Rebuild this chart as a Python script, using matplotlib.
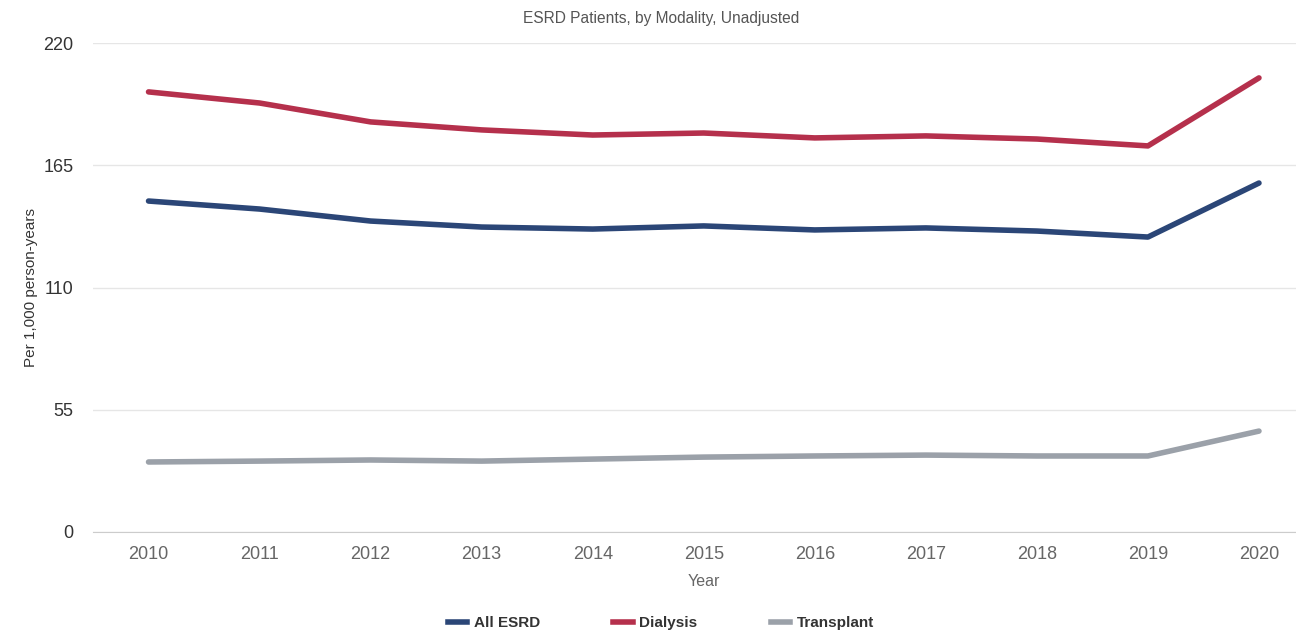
import matplotlib
matplotlib.use("Agg")
import matplotlib.pyplot as plt
from matplotlib.lines import Line2D

years = [2010, 2011, 2012, 2013, 2014, 2015, 2016, 2017, 2018, 2019, 2020]
all_esrd = [148.9, 145.3, 139.9, 137.2, 136.3, 137.7, 135.9, 136.8, 135.4, 132.7, 157.0]
dialysis = [198.0, 193.0, 184.5, 180.9, 178.6, 179.5, 177.3, 178.2, 176.8, 173.7, 204.3]
transplant = [31.5, 31.9, 32.4, 31.9, 32.8, 33.7, 34.2, 34.6, 34.2, 34.2, 45.4]
series_names = ["All ESRD", "Dialysis", "Transplant"]
colors = ["#2b4677", "#b5304c", "#9ba1a9"]
yticks = [0, 55, 110, 165, 220]

plt.rcParams['font.family'] = ['Liberation Sans', 'DejaVu Sans']

W, H = 1296, 633
fig = plt.figure(figsize=(W / 100, H / 100), dpi=100)
left_px, right_px = 93, 1314.5
top_px, bot_px = 43, 532
ax = fig.add_axes([left_px / W, 1 - bot_px / H, (right_px - left_px) / W, (bot_px - top_px) / H])

for vals, c in zip([all_esrd, dialysis, transplant], colors):
    ax.plot(years, vals, color=c, lw=4, solid_capstyle='round', solid_joinstyle='round', zorder=3)

ax.set_xlim(2009.5, 2020.5)
ax.set_ylim(0, 220)
ax.set_yticks(yticks)
ax.set_xticks(years)
ax.grid(axis='y', color='#e6e6e6', lw=1)
ax.set_axisbelow(True)
for s in ['top', 'right', 'left']:
    ax.spines[s].set_visible(False)
ax.spines['bottom'].set_color('#cccccc')
ax.tick_params(axis='y', length=0, labelsize=13, labelcolor='#333333', pad=14)
ax.tick_params(axis='x', length=0, labelsize=13, labelcolor='#666666', pad=10)
ax.set_xlabel("Year", fontsize=11.5, color='#666666', labelpad=8)
ax.set_ylabel("Per 1,000 person-years", fontsize=11, color='#333333', labelpad=4)

fig.text(661 / W, 1 - 18 / H, "ESRD Patients, by Modality, Unadjusted", ha='center', va='center',
         fontsize=11.2, color='#555555')

handles = [Line2D([0], [0], color=c, lw=4) for c in colors]
fig.legend(handles, series_names, loc='center', bbox_to_anchor=(661 / W, 1 - 623 / H), ncol=3,
           frameon=False, prop={'weight': 'bold', 'size': 11}, handlelength=1.25,
           columnspacing=4.8, handletextpad=0.45, labelcolor='#333333')

fig.savefig("out.png", dpi=100)
